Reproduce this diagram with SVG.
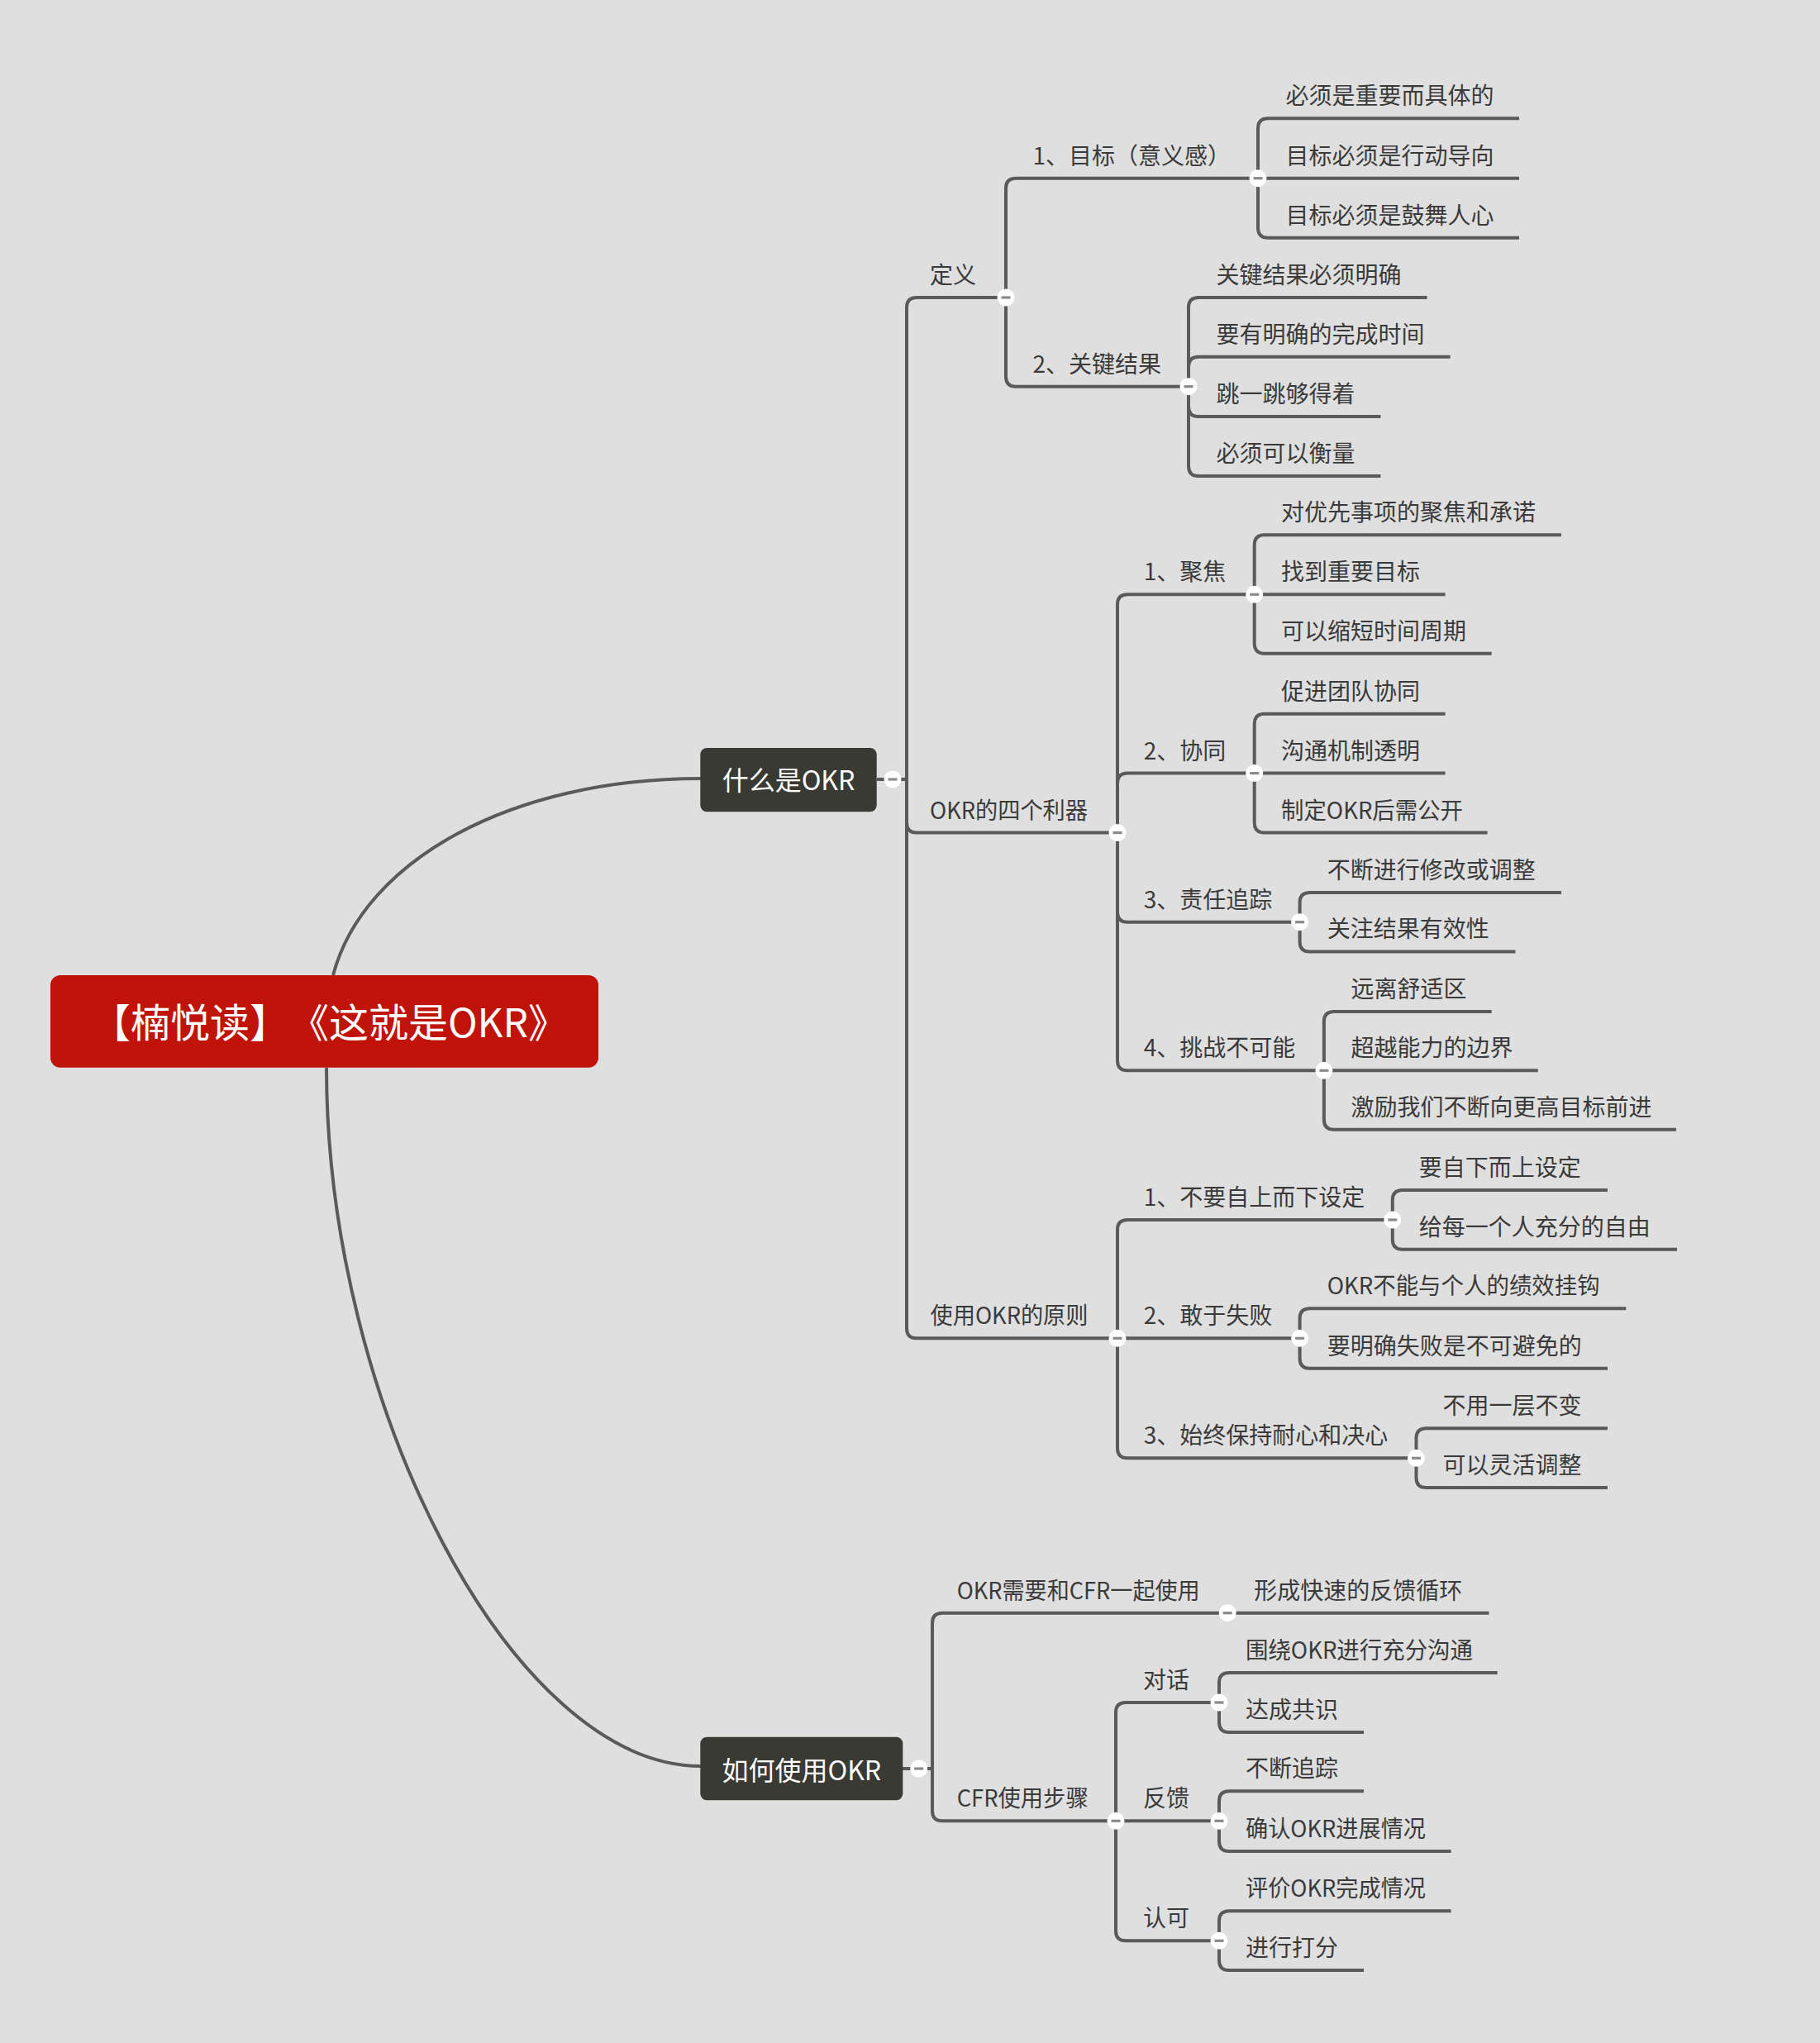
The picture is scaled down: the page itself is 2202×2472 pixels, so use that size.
<svg xmlns="http://www.w3.org/2000/svg" xmlns:xlink="http://www.w3.org/1999/xlink" width="2202" height="2472" viewBox="0 0 2202 2472">
<defs>
<style>
text{text-spacing-trim:space-all}
.ln{fill:none;stroke:#5a5a5a;stroke-width:4}
.t{font-family:"Noto Sans CJK SC","Noto Sans",sans-serif;font-size:28px;fill:#3a3a3a}
.tp{font-family:"Noto Sans CJK SC","Noto Sans",sans-serif;font-size:32px;fill:#ffffff;text-anchor:middle}
.tt{font-family:"Noto Sans CJK SC","Noto Sans",sans-serif;font-size:48px;fill:#ffffff}
.topic{fill:#393a34}
</style>
<g id="cb"><circle r="10.5" fill="#ffffff"/><rect x="-5.5" y="-1.6" width="11" height="3.2" fill="#8a8a8a"/></g>
</defs>
<rect width="2202" height="2472" fill="#dfdfdf"/>
<g id="connectors" class="ln">
<path d="M403,1180 C440,1040 620,942 848,942"/>
<path d="M395,1292 C395,1700 620,2137 848,2137"/>
<path d="M1061,943 H1097"/>
<path d="M1097,943 V372 Q1097,360 1109,360 H1217"/>
<path d="M1097,943 V995.6 Q1097,1007.6 1109,1007.6 H1352"/>
<path d="M1097,943 V1607.3 Q1097,1619.3 1109,1619.3 H1352"/>
<path d="M1217,360 V227.7 Q1217,215.7 1229,215.7 H1522"/>
<path d="M1217,360 V455.7 Q1217,467.7 1229,467.7 H1438"/>
<path d="M1522,215.7 V155.3 Q1522,143.3 1534,143.3 H1838"/>
<path d="M1522,215.7 H1838"/>
<path d="M1522,215.7 V275.7 Q1522,287.7 1534,287.7 H1838"/>
<path d="M1438,467.7 V372 Q1438,360 1450,360 H1726.5"/>
<path d="M1438,467.7 V443.7 Q1438,431.7 1450,431.7 H1754.6"/>
<path d="M1438,467.7 V492 Q1438,504 1450,504 H1670.4"/>
<path d="M1438,467.7 V564 Q1438,576 1450,576 H1670.4"/>
<path d="M1352,1007.6 V731.3 Q1352,719.3 1364,719.3 H1517.7"/>
<path d="M1352,1007.6 V947.6 Q1352,935.6 1364,935.6 H1517.7"/>
<path d="M1352,1007.6 V1103.7 Q1352,1115.7 1364,1115.7 H1572.6"/>
<path d="M1352,1007.6 V1283.3 Q1352,1295.3 1364,1295.3 H1601.9"/>
<path d="M1517.7,719.3 V659.3 Q1517.7,647.3 1529.7,647.3 H1889"/>
<path d="M1517.7,719.3 H1748.6"/>
<path d="M1517.7,719.3 V778.7 Q1517.7,790.7 1529.7,790.7 H1804.7"/>
<path d="M1517.7,935.6 V875.7 Q1517.7,863.7 1529.7,863.7 H1748.6"/>
<path d="M1517.7,935.6 H1748.6"/>
<path d="M1517.7,935.6 V995.6 Q1517.7,1007.6 1529.7,1007.6 H1799.6"/>
<path d="M1572.6,1115.7 V1092 Q1572.6,1080 1584.6,1080 H1889"/>
<path d="M1572.6,1115.7 V1139.4 Q1572.6,1151.4 1584.6,1151.4 H1833.4"/>
<path d="M1601.9,1295.3 V1235.9 Q1601.9,1223.9 1613.9,1223.9 H1804.7"/>
<path d="M1601.9,1295.3 H1860.8"/>
<path d="M1601.9,1295.3 V1354.7 Q1601.9,1366.7 1613.9,1366.7 H2028"/>
<path d="M1352,1619.3 V1488 Q1352,1476 1364,1476 H1684.8"/>
<path d="M1352,1619.3 H1572.6"/>
<path d="M1352,1619.3 V1752.3 Q1352,1764.3 1364,1764.3 H1713.5"/>
<path d="M1684.8,1476 V1452 Q1684.8,1440 1696.8,1440 H1945"/>
<path d="M1684.8,1476 V1499.7 Q1684.8,1511.7 1696.8,1511.7 H2029"/>
<path d="M1572.6,1619.3 V1595.3 Q1572.6,1583.3 1584.6,1583.3 H1967.3"/>
<path d="M1572.6,1619.3 V1643.7 Q1572.6,1655.7 1584.6,1655.7 H1945"/>
<path d="M1713.5,1764.3 V1740.3 Q1713.5,1728.3 1725.5,1728.3 H1945"/>
<path d="M1713.5,1764.3 V1788 Q1713.5,1800 1725.5,1800 H1945"/>
<path d="M1092,2140 H1128"/>
<path d="M1128,2140 V1963.7 Q1128,1951.7 1140,1951.7 H1485.2"/>
<path d="M1128,2140 V2191.3 Q1128,2203.3 1140,2203.3 H1350"/>
<path d="M1485.2,1951.7 H1801.5"/>
<path d="M1350,2203.3 V2072 Q1350,2060 1362,2060 H1475"/>
<path d="M1350,2203.3 H1475"/>
<path d="M1350,2203.3 V2336.3 Q1350,2348.3 1362,2348.3 H1475"/>
<path d="M1475,2060 V2036 Q1475,2024 1487,2024 H1811.7"/>
<path d="M1475,2060 V2084 Q1475,2096 1487,2096 H1650"/>
<path d="M1475,2203.3 V2179.3 Q1475,2167.3 1487,2167.3 H1650"/>
<path d="M1475,2203.3 V2228 Q1475,2240 1487,2240 H1755.6"/>
<path d="M1475,2348.3 V2324.3 Q1475,2312.3 1487,2312.3 H1755.6"/>
<path d="M1475,2348.3 V2372 Q1475,2384 1487,2384 H1650"/>
</g>
<g id="root"><rect x="61" y="1180" width="663" height="111.7" rx="12" fill="#c0130a"/><text class="tt" y="1255"><tspan x="110">【楠悦读】</tspan><tspan x="350">《这就是OKR》</tspan></text></g>
<g id="topic-what"><rect class="topic" x="847.3" y="905" width="213.4" height="77.3" rx="8"/><text class="tp" x="954" y="956">什么是OKR</text><use href="#cb" x="1080" y="943"/></g>
<g id="topic-how"><rect class="topic" x="847.3" y="2101.7" width="245" height="76.6" rx="8"/><text class="tp" x="969.8" y="2154">如何使用OKR</text><use href="#cb" x="1111.7" y="2140"/></g>
<g id="n-def"><text class="t" x="1125" y="343">定义</text><use href="#cb" x="1217" y="360"/></g>
<g id="n-goal"><text class="t" x="1249.5" y="198.7">1、目标（意义感）</text><use href="#cb" x="1522" y="215.7"/></g>
<g id="n-goal-1"><text class="t" x="1555.6" y="126.3">必须是重要而具体的</text></g>
<g id="n-goal-2"><text class="t" x="1555.6" y="198.7">目标必须是行动导向</text></g>
<g id="n-goal-3"><text class="t" x="1555.6" y="270.7">目标必须是鼓舞人心</text></g>
<g id="n-kr"><text class="t" x="1249.5" y="450.7">2、关键结果</text><use href="#cb" x="1438" y="467.7"/></g>
<g id="n-kr-1"><text class="t" x="1471.4" y="343">关键结果必须明确</text></g>
<g id="n-kr-2"><text class="t" x="1471.4" y="414.7">要有明确的完成时间</text></g>
<g id="n-kr-3"><text class="t" x="1471.4" y="487">跳一跳够得着</text></g>
<g id="n-kr-4"><text class="t" x="1471.4" y="559">必须可以衡量</text></g>
<g id="n-four"><text class="t" x="1125" y="990.6" textLength="191" lengthAdjust="spacingAndGlyphs">OKR的四个利器</text><use href="#cb" x="1352" y="1007.6"/></g>
<g id="n-focus"><text class="t" x="1383.8" y="702.3">1、聚焦</text><use href="#cb" x="1517.7" y="719.3"/></g>
<g id="n-focus-1"><text class="t" x="1550" y="630.3">对优先事项的聚焦和承诺</text></g>
<g id="n-focus-2"><text class="t" x="1550" y="702.3">找到重要目标</text></g>
<g id="n-focus-3"><text class="t" x="1550" y="773.7">可以缩短时间周期</text></g>
<g id="n-align"><text class="t" x="1383.8" y="918.6">2、协同</text><use href="#cb" x="1517.7" y="935.6"/></g>
<g id="n-align-1"><text class="t" x="1550" y="846.7">促进团队协同</text></g>
<g id="n-align-2"><text class="t" x="1550" y="918.6">沟通机制透明</text></g>
<g id="n-align-3"><text class="t" x="1550" y="990.6" textLength="220" lengthAdjust="spacingAndGlyphs">制定OKR后需公开</text></g>
<g id="n-track"><text class="t" x="1383.8" y="1098.7">3、责任追踪</text><use href="#cb" x="1572.6" y="1115.7"/></g>
<g id="n-track-1"><text class="t" x="1605.7" y="1063">不断进行修改或调整</text></g>
<g id="n-track-2"><text class="t" x="1605.7" y="1134.4">关注结果有效性</text></g>
<g id="n-stretch"><text class="t" x="1383.8" y="1278.3">4、挑战不可能</text><use href="#cb" x="1601.9" y="1295.3"/></g>
<g id="n-stretch-1"><text class="t" x="1634.4" y="1206.9">远离舒适区</text></g>
<g id="n-stretch-2"><text class="t" x="1634.4" y="1278.3">超越能力的边界</text></g>
<g id="n-stretch-3"><text class="t" x="1634.4" y="1349.7">激励我们不断向更高目标前进</text></g>
<g id="n-rules"><text class="t" x="1125.5" y="1602.3" textLength="191" lengthAdjust="spacingAndGlyphs">使用OKR的原则</text><use href="#cb" x="1352" y="1619.3"/></g>
<g id="n-bottomup"><text class="t" x="1383.8" y="1459">1、不要自上而下设定</text><use href="#cb" x="1684.8" y="1476"/></g>
<g id="n-bottomup-1"><text class="t" x="1716.7" y="1423">要自下而上设定</text></g>
<g id="n-bottomup-2"><text class="t" x="1716.7" y="1494.7">给每一个人充分的自由</text></g>
<g id="n-fail"><text class="t" x="1383.8" y="1602.3">2、敢于失败</text><use href="#cb" x="1572.6" y="1619.3"/></g>
<g id="n-fail-1"><text class="t" x="1605.7" y="1566.3" textLength="330" lengthAdjust="spacingAndGlyphs">OKR不能与个人的绩效挂钩</text></g>
<g id="n-fail-2"><text class="t" x="1605.7" y="1638.7">要明确失败是不可避免的</text></g>
<g id="n-patience"><text class="t" x="1383.8" y="1747.3">3、始终保持耐心和决心</text><use href="#cb" x="1713.5" y="1764.3"/></g>
<g id="n-patience-1"><text class="t" x="1745.4" y="1711.3">不用一层不变</text></g>
<g id="n-patience-2"><text class="t" x="1745.4" y="1783">可以灵活调整</text></g>
<g id="n-cfr"><text class="t" x="1157.7" y="1934.7" textLength="294" lengthAdjust="spacingAndGlyphs">OKR需要和CFR一起使用</text><use href="#cb" x="1485.2" y="1951.7"/></g>
<g id="n-cfr-1"><text class="t" x="1517.3" y="1934.7">形成快速的反馈循环</text></g>
<g id="n-steps"><text class="t" x="1157.7" y="2186.3" textLength="159" lengthAdjust="spacingAndGlyphs">CFR使用步骤</text><use href="#cb" x="1350" y="2203.3"/></g>
<g id="n-talk"><text class="t" x="1383" y="2043">对话</text><use href="#cb" x="1475" y="2060"/></g>
<g id="n-talk-1"><text class="t" x="1507" y="2007" textLength="275" lengthAdjust="spacingAndGlyphs">围绕OKR进行充分沟通</text></g>
<g id="n-talk-2"><text class="t" x="1507" y="2079">达成共识</text></g>
<g id="n-feedback"><text class="t" x="1383" y="2186.3">反馈</text><use href="#cb" x="1475" y="2203.3"/></g>
<g id="n-feedback-1"><text class="t" x="1507" y="2150.3">不断追踪</text></g>
<g id="n-feedback-2"><text class="t" x="1507" y="2223" textLength="218" lengthAdjust="spacingAndGlyphs">确认OKR进展情况</text></g>
<g id="n-recog"><text class="t" x="1383" y="2331.3">认可</text><use href="#cb" x="1475" y="2348.3"/></g>
<g id="n-recog-1"><text class="t" x="1507" y="2295.3" textLength="218" lengthAdjust="spacingAndGlyphs">评价OKR完成情况</text></g>
<g id="n-recog-2"><text class="t" x="1507" y="2367">进行打分</text></g>
</svg>
